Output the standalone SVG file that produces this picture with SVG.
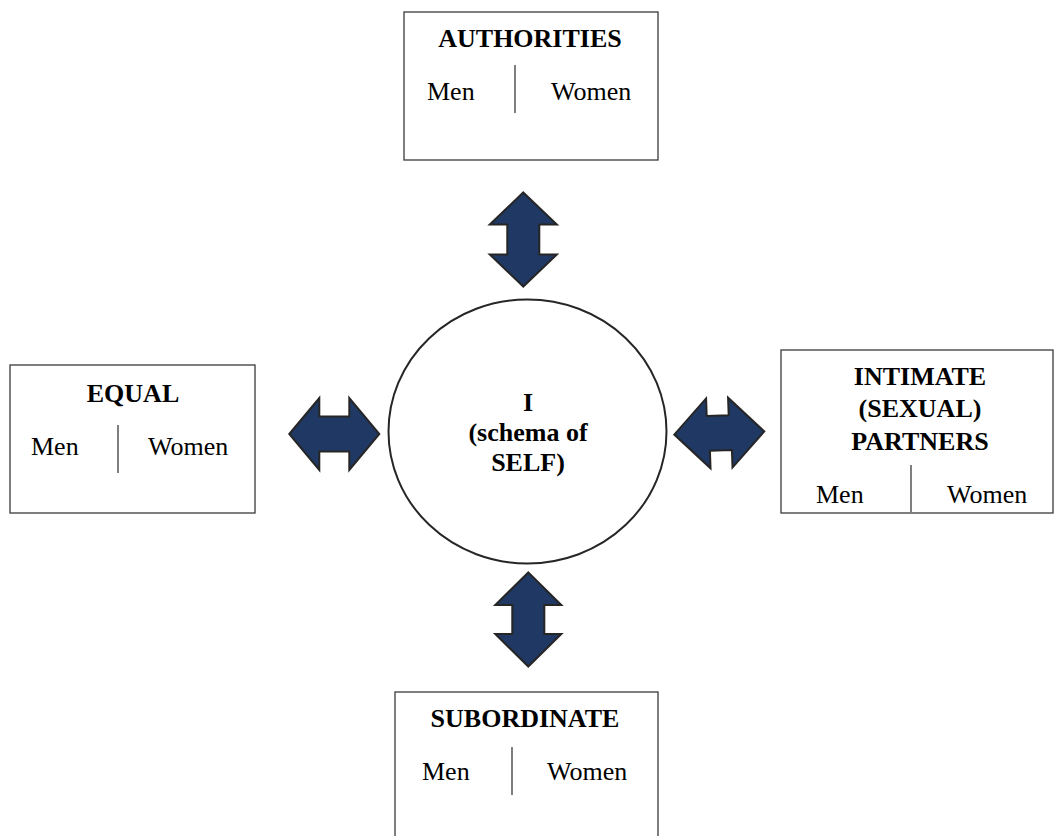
<svg xmlns="http://www.w3.org/2000/svg" width="1054" height="836" viewBox="0 0 1054 836">
<style>
.box{fill:#fff;stroke:#3a3a3a;stroke-width:1.3}
.div{stroke:#3a3a3a;stroke-width:1.3}
.title{font-family:"Liberation Serif","Times New Roman",serif;font-size:26px;font-weight:bold;fill:#000;text-anchor:middle}
.lbl{font-family:"Liberation Serif","Times New Roman",serif;font-size:26px;fill:#000}
.arrow{fill:#1f3864;stroke:#262626;stroke-width:2;stroke-linejoin:miter}
.self{fill:#fff;stroke:#262626;stroke-width:2}
</style>
<rect width="1054" height="836" fill="#fff"/>
<g id="authorities">
<rect class="box" x="404" y="12" width="254" height="148"/>
<text class="title" x="530" y="47">AUTHORITIES</text>
<text class="lbl" x="427" y="100">Men</text>
<line class="div" x1="515" y1="65" x2="515" y2="113"/>
<text class="lbl" x="551" y="100">Women</text>
</g>
<g id="equal">
<rect class="box" x="10" y="365" width="245" height="148"/>
<text class="title" x="133" y="402">EQUAL</text>
<text class="lbl" x="31" y="455">Men</text>
<line class="div" x1="118" y1="425" x2="118" y2="473"/>
<text class="lbl" x="148" y="455">Women</text>
</g>
<g id="intimate">
<rect class="box" x="781" y="350" width="272" height="163"/>
<text class="title" x="920" y="385">INTIMATE</text>
<text class="title" x="920" y="417">(SEXUAL)</text>
<text class="title" x="920" y="450">PARTNERS</text>
<text class="lbl" x="816" y="503">Men</text>
<line class="div" x1="911" y1="465" x2="911" y2="512"/>
<text class="lbl" x="947" y="503">Women</text>
</g>
<g id="subordinate">
<rect class="box" x="395" y="692" width="263" height="160"/>
<text class="title" x="525" y="727">SUBORDINATE</text>
<text class="lbl" x="422" y="780">Men</text>
<line class="div" x1="512" y1="747" x2="512" y2="795"/>
<text class="lbl" x="547" y="780">Women</text>
</g>
<g id="self">
<ellipse class="self" cx="527.5" cy="431.5" rx="139" ry="132"/>
<text class="title" x="528" y="411">I</text>
<text class="title" x="528" y="441">(schema of</text>
<text class="title" x="528" y="471">SELF)</text>
</g>
<g id="connectors">
<path class="arrow" transform="translate(523.3,239.5)" d="M0,-47 L33.5,-15 L16,-15 L16,15 L33.5,15 L0,47 L-33.5,15 L-16,15 L-16,-15 L-33.5,-15 Z"/>
<path class="arrow" transform="translate(528.3,619.5)" d="M0,-47 L33,-14.5 L16,-14.5 L16,14.5 L33,14.5 L0,47 L-33,14.5 L-16,14.5 L-16,-14.5 L-33,-14.5 Z"/>
<path class="arrow" transform="translate(334.3,434)" d="M-45,0 L-15,-36 L-15,-17.5 L15,-17.5 L15,-36 L45,0 L15,36 L15,17.5 L-15,17.5 L-15,36 Z"/>
<path class="arrow" transform="translate(719.3,433) rotate(-2)" d="M-45,0 L-12,-35 L-12,-17.5 L10,-17.5 L10,-35 L45,0 L12,35 L12,17.5 L-10,17.5 L-10,35 Z"/>
</g>
</svg>
